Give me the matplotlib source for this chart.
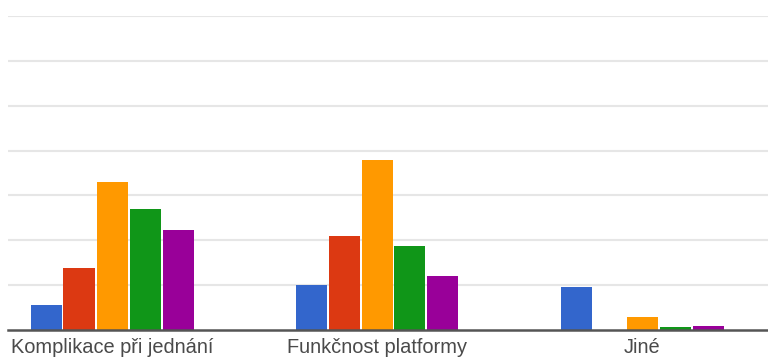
import numpy as np
import matplotlib.pyplot as plt

categories = ['Komplikace při jednání', 'Funkčnost platformy', 'Jiné']
series_names = ['1', '2', '3', '4', '5']
series_values = [
    [0.55, 1.00, 0.96],   # blue
    [1.38, 2.09, 0.00],   # red
    [3.29, 3.78, 0.29],   # orange
    [2.69, 1.87, 0.07],   # green
    [2.22, 1.20, 0.09],   # purple
]
colors = ['#3366cc', '#dc3912', '#ff9900', '#109618', '#990099']

plt.rcParams['font.family'] = ['Liberation Sans', 'DejaVu Sans']

fig = plt.figure(figsize=(7.68, 3.62), dpi=100)
ax = fig.add_axes([8 / 768, 32 / 362, 760 / 768, 314 / 362])

x = np.arange(len(categories))
step = 33 / 265
width = 31 / 265
for i, (name, vals) in enumerate(zip(series_names, series_values)):
    ax.bar(x + (i - 2) * step, vals, width=width, color=colors[i], label=name, zorder=3)

ax.set_xlim(-(112 - 8) / 265, 2 + (768 - 642) / 265)
ax.set_ylim(0, 7)
ax.set_yticks(np.arange(1, 8))
ax.yaxis.grid(True, color='#e6e6e6', linewidth=1.5, zorder=0)
ax.tick_params(axis='y', left=False, labelleft=False)
ax.set_xticks(x)
ax.set_xticklabels(categories, fontsize=14.4, color='#4a4a4a')
ax.tick_params(axis='x', length=0, pad=6)

for side in ['top', 'right', 'left']:
    ax.spines[side].set_visible(False)
ax.spines['bottom'].set_color('#555555')
ax.spines['bottom'].set_linewidth(1.8)
ax.spines['bottom'].set_zorder(4)

fig.savefig('out.png', dpi=100)
